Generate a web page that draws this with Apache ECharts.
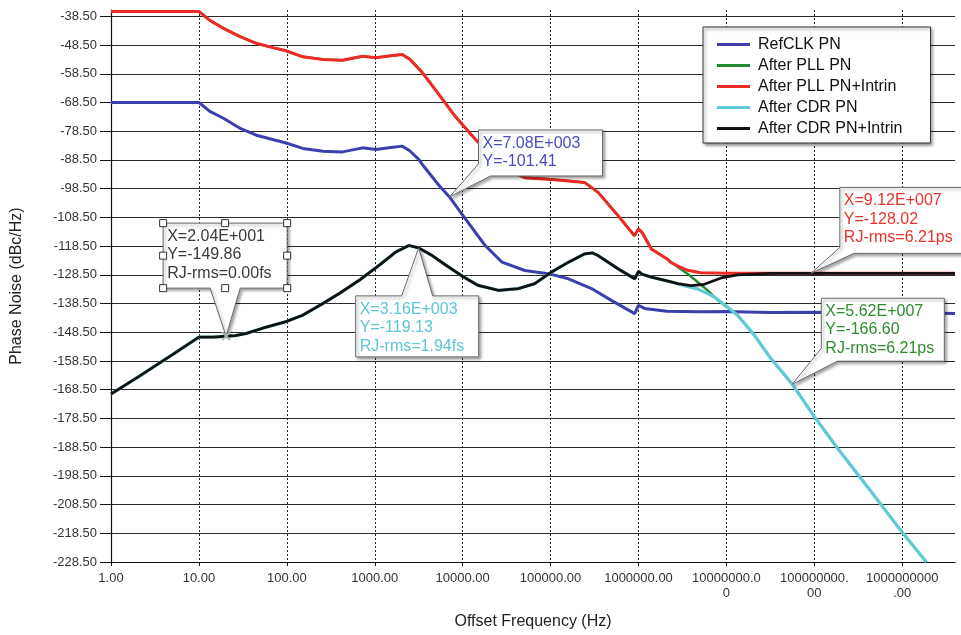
<!DOCTYPE html>
<html><head><meta charset="utf-8">
<script src="https://cdn.jsdelivr.net/npm/echarts@6/dist/echarts.min.js"></script>
<style>html,body{margin:0;padding:0;background:#fff}#c{width:961px;height:635px}</style>
</head><body><div id="c"></div>
<script>
// ---------- DATA ----------
const seriesNames = ['RefCLK PN', 'After PLL PN', 'After PLL PN+Intrin', 'After CDR PN', 'After CDR PN+Intrin'];

const refFreq = [1, 10, 13.3, 18.8, 29, 45, 69, 98, 152, 257, 430, 727, 1030, 1450, 2050, 2500, 3200, 3460, 5360, 7080, 9800, 18000, 28000, 51000, 94000, 160000, 292000, 491000, 906000, 1000000, 1170000, 2100000, 5000000, 1e7, 3e7, 1e8, 3e8, 1e9, 3.98e9];
const refPN   = [-68.5, -68.5, -71.6, -73.9, -77.4, -79.9, -81.4, -82.6, -84.5, -85.5, -85.7, -84.3, -84.9, -84.3, -83.7, -85.3, -88.5, -90.0, -97.3, -101.4, -107.4, -118.3, -124.1, -127.0, -128.1, -129.9, -133.3, -137.4, -142.0, -139.1, -140.2, -141.2, -141.4, -141.3, -141.6, -141.5, -141.8, -141.7, -142.0];

const pllFreq = [1, 10, 13.3, 18.8, 29, 45, 69, 98, 152, 257, 430, 727, 1030, 1450, 2050, 2500, 3460, 5360, 8300, 14000, 25000, 35000, 51000, 94000, 160000, 245000, 347000, 585000, 900000, 1000000, 1100000, 1400000, 2100000, 2800000, 3600000, 4700000, 6100000, 8000000, 1.02e7, 1.34e7, 2.08e7, 3.17e7, 5.62e7, 9.9e7, 1.82e8, 4.35e8, 1.03e9, 1.88e9];
const pllPN   = [-36.8, -36.8, -39.9, -42.6, -45.5, -47.9, -49.4, -50.5, -52.6, -53.5, -53.8, -52.4, -52.9, -52.3, -51.8, -53.4, -58.0, -65.7, -73.5, -81.4, -89.0, -92.5, -94.7, -95.2, -95.8, -96.4, -99.8, -107.9, -114.9, -112.5, -113.8, -119.5, -122.9, -125.8, -128.1, -131.0, -133.9, -137.4, -139.8, -142.6, -149.5, -157.5, -166.6, -177.7, -188.7, -203.7, -218.7, -228.5];

const pllIntFreq = [1, 10, 13.3, 18.8, 29, 45, 69, 98, 152, 257, 430, 727, 1030, 1450, 2050, 2500, 3460, 5360, 8300, 14000, 25000, 35000, 51000, 94000, 160000, 245000, 347000, 585000, 900000, 1000000, 1100000, 1400000, 2100000, 2350000, 3300000, 3600000, 5100000, 1e7, 1e8, 1e9, 3.98e9];
const pllIntPN   = [-36.8, -36.8, -39.9, -42.6, -45.5, -47.9, -49.4, -50.5, -52.6, -53.5, -53.8, -52.4, -52.9, -52.3, -51.8, -53.4, -58.0, -65.7, -73.5, -81.4, -89.0, -92.5, -94.7, -95.2, -95.8, -96.4, -99.8, -107.9, -114.9, -112.5, -113.8, -119.5, -122.9, -124.3, -126.4, -126.9, -127.8, -128.0, -128.0, -128.0, -128.0];

const cdrFreq = [1, 2, 5, 10, 14.5, 20.4, 26, 34.7, 53, 98, 151, 257, 395, 665, 1120, 1730, 2450, 3160, 4500, 6340, 9800, 15000, 25600, 43000, 66000, 103000, 160000, 245000, 300000, 347000, 585000, 906000, 1000000, 1100000, 1400000, 2350000, 2800000, 3300000, 4700000, 7300000, 1.02e7, 1.34e7, 2.08e7, 3.17e7, 5.62e7, 9.9e7, 1.82e8, 4.35e8, 1.03e9, 1.88e9];
const cdrPN   = [-170.0, -164.2, -156.3, -150.2, -150.2, -149.9, -149.7, -148.9, -147.1, -144.8, -142.6, -138.5, -135.0, -130.4, -125.2, -120.6, -118.3, -119.13, -121.8, -125.0, -128.9, -132.2, -133.9, -133.3, -131.6, -127.5, -124.1, -121.2, -120.9, -121.8, -126.4, -129.9, -127.3, -128.3, -129.3, -131.0, -131.6, -132.3, -133.4, -136.2, -139.6, -142.6, -149.5, -157.5, -166.6, -177.7, -188.7, -203.7, -218.7, -228.5];

const cdrIntFreq = [1, 2, 5, 10, 14.5, 20.4, 26, 34.7, 53, 98, 151, 257, 395, 665, 1120, 1730, 2450, 3160, 4500, 6340, 9800, 15000, 25600, 43000, 66000, 103000, 160000, 245000, 300000, 347000, 585000, 906000, 1000000, 1100000, 1400000, 2350000, 2800000, 3950000, 5600000, 8700000, 1.34e7, 3.2e7, 1e8, 1e9, 3.98e9];
const cdrIntPN   = [-170.0, -164.2, -156.3, -150.2, -150.2, -149.9, -149.7, -148.9, -147.1, -144.8, -142.6, -138.5, -135.0, -130.4, -125.2, -120.6, -118.3, -119.13, -121.8, -125.0, -128.9, -132.2, -133.9, -133.3, -131.6, -127.5, -124.1, -121.2, -120.9, -121.8, -126.4, -129.9, -127.3, -128.3, -129.3, -131.0, -131.6, -132.3, -131.8, -129.6, -128.5, -128.0, -128.0, -128.0, -128.0];

const yTicks = [-228.5, -218.5, -208.5, -198.5, -188.5, -178.5, -168.5, -158.5, -148.5, -138.5, -128.5, -118.5, -108.5, -98.5, -88.5, -78.5, -68.5, -58.5, -48.5, -38.5];
const xTicks = [1, 10, 100, 1000, 1e4, 1e5, 1e6, 1e7, 1e8, 1e9];

// callout (marker) readouts
const calloutX  = [20.4, 3160, 7080, 9.12e7, 5.62e7];
const calloutY  = [-149.86, -119.13, -101.41, -128.02, -166.60];
const calloutRJ = ['0.00fs', '1.94fs', null, '6.21ps', '6.21ps'];

// ---------- STYLE ----------
const colors = ['#3c40ad', '#1f8a30', '#ee2a24', '#5fcbd4', '#111111'];
const widths = [3, 2.4, 3, 3.2, 2.8];
const FONT = '"Liberation Sans", Arial, sans-serif';

const zip = (a, b) => a.map((v, i) => [v, b[i]]);
const seriesData = [zip(refFreq, refPN), zip(pllFreq, pllPN), zip(pllIntFreq, pllIntPN), zip(cdrFreq, cdrPN), zip(cdrIntFreq, cdrIntPN)];

function xLabel(v) {
  const l = Math.log10(v);
  if (Math.abs(l - Math.round(l)) > 1e-6) return '';
  const s = v.toFixed(2);
  const parts = [];
  for (let i = 0; i < s.length; i += 10) parts.push(s.slice(i, i + 10));
  return parts.join('\n');
}

const chart = echarts.init(document.getElementById('c'), null, {renderer: 'canvas'});
chart.setOption({
  animation: false,
  backgroundColor: '#fff',
  textStyle: {fontFamily: FONT},
  grid: {left: 111, right: 6, top: 10, bottom: 70, containLabel: false},
  legend: {
    orient: 'vertical', left: 703, top: 27,
    padding: [7, 28, 4, 14],
    itemWidth: 33, itemHeight: 3, itemGap: 0, icon: 'rect',
    textStyle: {fontFamily: FONT, fontSize: 16, color: '#111', lineHeight: 21, padding: [0, 0, 0, 3]},
    backgroundColor: '#fff', borderColor: '#333', borderWidth: 1,
    shadowBlur: 3, shadowColor: 'rgba(0,0,0,0.45)', shadowOffsetX: 2, shadowOffsetY: 2,
    data: seriesNames
  },
  xAxis: {
    type: 'log', logBase: 10, min: 1, max: 3.98e9, splitNumber: 10,
    name: 'Offset Frequency (Hz)', nameLocation: 'middle', nameGap: 52,
    nameTextStyle: {fontFamily: FONT, fontSize: 16, color: '#222'},
    axisLine: {lineStyle: {color: '#111', width: 1.2}},
    axisTick: {show: true, length: 4, lineStyle: {color: '#111'}},
    minorTick: {show: false},
    axisLabel: {formatter: xLabel, fontFamily: FONT, fontSize: 13, color: '#333', margin: 9, lineHeight: 15, showMaxLabel: false},
    splitLine: {show: true, showMinLine: false, showMaxLine: false, lineStyle: {type: [2, 2], color: '#222', width: 1}}
  },
  yAxis: {
    type: 'value', min: -228.5, max: -36.3, interval: 10,
    name: 'Phase Noise (dBc/Hz)', nameLocation: 'middle', nameGap: 86,
    nameTextStyle: {fontFamily: FONT, fontSize: 16, color: '#222'},
    axisLine: {show: true, lineStyle: {color: '#111', width: 1.2}},
    axisTick: {show: true, length: 11, lineStyle: {color: '#111'}, customValues: yTicks},
    axisLabel: {formatter: v => v.toFixed(2), fontFamily: FONT, fontSize: 13, color: '#333', margin: 14, customValues: yTicks},
    splitLine: {show: true, lineStyle: {color: '#2a2a2a', width: 1.2}}
  },
  series: seriesNames.map((n, i) => ({
    name: n, type: 'line', data: seriesData[i], symbol: 'none', showSymbol: false,
    lineStyle: {color: colors[i], width: widths[i]}, itemStyle: {color: colors[i]},
    clip: true, z: 2 + i
  }))
});

// ---------- CALLOUTS ----------
function fmtX(x) {
  const [m, e] = x.toExponential(2).split('e');
  const ei = parseInt(e, 10);
  return m + 'E' + (ei < 0 ? '-' : '+') + String(Math.abs(ei)).padStart(3, '0');
}
// layout relative to the anchor point: box [dx0, dy0, dx1, dy1], pointer base points, pointer edge
const calloutLayout = [
  {box: [-63, -113, 61, -48], ptr: [[14, -48], [-16, -48]], edge: 'bottom', color: '#3a3a3a', handles: true, mark: true},
  {box: [-63, 48, 60, 109], ptr: [[-17, 48], [14, 48]], edge: 'top', color: '#5cc6d4'},
  {box: [29, -67, 153, -21], ptr: [[41, -21], [29, -33]], edge: 'bl', color: '#4a4cc0'},
  {box: [29, -86, 170, -20], ptr: [[43, -20], [29, -26]], edge: 'bl', color: '#e8322e'},
  {box: [29, -86, 152, -23], ptr: [[45, -23], [29, -36]], edge: 'bl', color: '#2e8b2e'}
];
const graphics = [];
calloutX.forEach((cx, i) => {
  const p = chart.convertToPixel({xAxisIndex: 0, yAxisIndex: 0}, [cx, calloutY[i]]);
  const L = calloutLayout[i];
  const x0 = p[0] + L.box[0], y0 = p[1] + L.box[1], x1 = p[0] + L.box[2], y1 = p[1] + L.box[3];
  const a = [p[0] + L.ptr[0][0], p[1] + L.ptr[0][1]], b = [p[0] + L.ptr[1][0], p[1] + L.ptr[1][1]];
  let pts;
  if (L.edge === 'bottom') pts = [[x0, y0], [x1, y0], [x1, y1], a, p, b, [x0, y1]];
  else if (L.edge === 'top') pts = [[x0, y0], a, p, b, [x1, y0], [x1, y1], [x0, y1]];
  else pts = [[x0, y0], [x1, y0], [x1, y1], a, p, b];
  graphics.push({type: 'polygon', z: 100, shape: {points: pts},
    style: {fill: '#fff', stroke: '#6a6a6a', lineWidth: 1, shadowBlur: 3, shadowColor: 'rgba(0,0,0,0.35)', shadowOffsetX: 2, shadowOffsetY: 2}});
  const lines = ['X=' + fmtX(cx), 'Y=' + calloutY[i].toFixed(2)];
  if (calloutRJ[i]) lines.push('RJ-rms=' + calloutRJ[i]);
  graphics.push({type: 'text', z: 101, x: x0 + 4, y: y0 + 4,
    style: {text: lines.join('\n'), fill: L.color, font: '16px ' + FONT, lineHeight: 18.5, align: 'left', verticalAlign: 'top'}});
  if (L.handles) {
    const mx = (x0 + x1) / 2, my = (y0 + y1) / 2;
    [[x0, y0], [mx, y0], [x1, y0], [x0, my], [x1, my], [x0, y1], [mx, y1], [x1, y1]].forEach(h => {
      graphics.push({type: 'rect', z: 102, shape: {x: h[0] - 3.5, y: h[1] - 3.5, width: 7, height: 7},
        style: {fill: '#fff', stroke: '#333', lineWidth: 1}});
    });
  }
  if (L.mark) {
    const s = 4;
    graphics.push({type: 'line', z: 103, shape: {x1: p[0] - s, y1: p[1] - s, x2: p[0] + s, y2: p[1] + s}, style: {stroke: '#b0b0b0', lineWidth: 2}});
    graphics.push({type: 'line', z: 103, shape: {x1: p[0] - s, y1: p[1] + s, x2: p[0] + s, y2: p[1] - s}, style: {stroke: '#b0b0b0', lineWidth: 2}});
  }
});
chart.setOption({graphic: graphics});
</script>
</body></html>
